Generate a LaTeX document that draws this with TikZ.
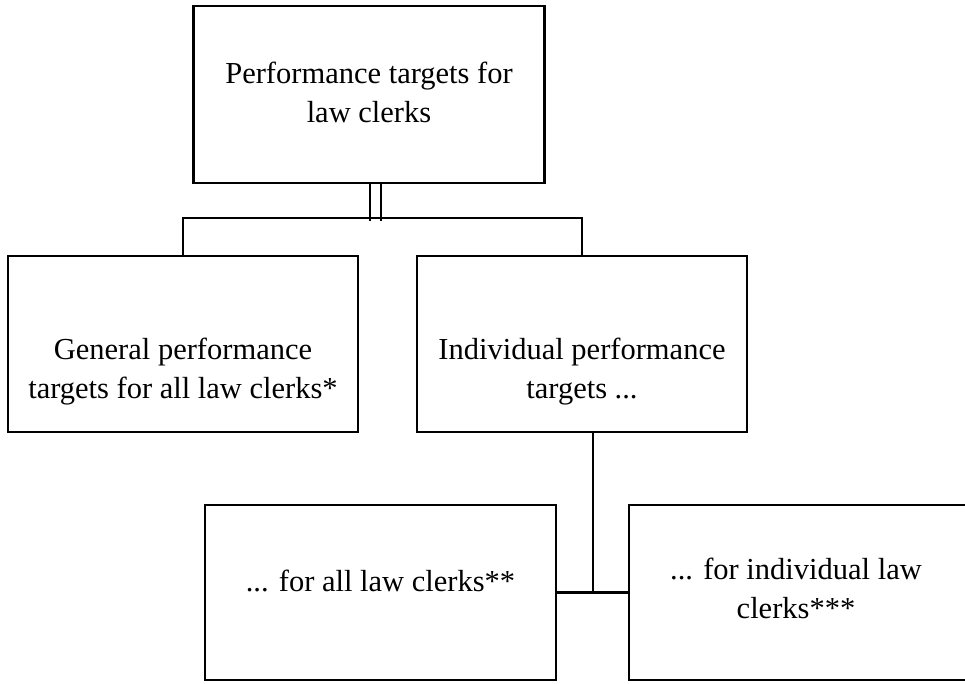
\documentclass[tikz,border=0pt]{standalone}
\usepackage{fontspec}
\setmainfont{Liberation Serif}
\usetikzlibrary{positioning}

\begin{document}
\begin{tikzpicture}[line cap=rect,line join=miter,x=1pt,y=-1pt,
  orgbox/.style={draw,line width=2.2pt,inner sep=0pt},
  boxtext/.style={align=center,inner sep=0pt,font=\fontsize{30.5}{39}\selectfont},
  link/.style={line width=2.2pt}]
\useasboundingbox (0,0) rectangle (965,683);
% boxes
\node[orgbox,minimum width=351,minimum height=177] (top) at (369,94.5) {};
\node[orgbox,minimum width=350,minimum height=176] (gen) at (183,344) {};
\node[orgbox,minimum width=330,minimum height=176] (ind) at (582,344) {};
\node[orgbox,minimum width=351,minimum height=175] (all) at (380.5,592.5) {};
\node[orgbox,minimum width=350,minimum height=175] (own) at (804,592.5) {};
% texts
\node[boxtext] (toptext) at ([yshift=2]top.center) {Performance targets for\\law clerks};
\node[boxtext] (gentext) at ([yshift=-28]gen.center) {General performance\\targets for all law clerks*};
\node[boxtext] (indtext) at ([yshift=-28]ind.center) {Individual performance\\targets ...};
\node[boxtext] (alltext) at ([yshift=12]all.center) {... for all law clerks**};
\node[boxtext] (owntext) at ([xshift=-8,yshift=4]own.center) {... for individual law\\clerks***};
% connectors
\draw[link] ([xshift=1]top.south) -- ++(0,36);
\draw[link] ([xshift=12]top.south) -- ++(0,36);
\draw[link] (gen.north) -- ++(0,-37) -| (ind.north);
\draw[link] ([xshift=11]ind.south) -- ([xshift=11]ind.south |- all.east);
\draw[link] (all.east) -- (own.west);
\end{tikzpicture}
\end{document}
